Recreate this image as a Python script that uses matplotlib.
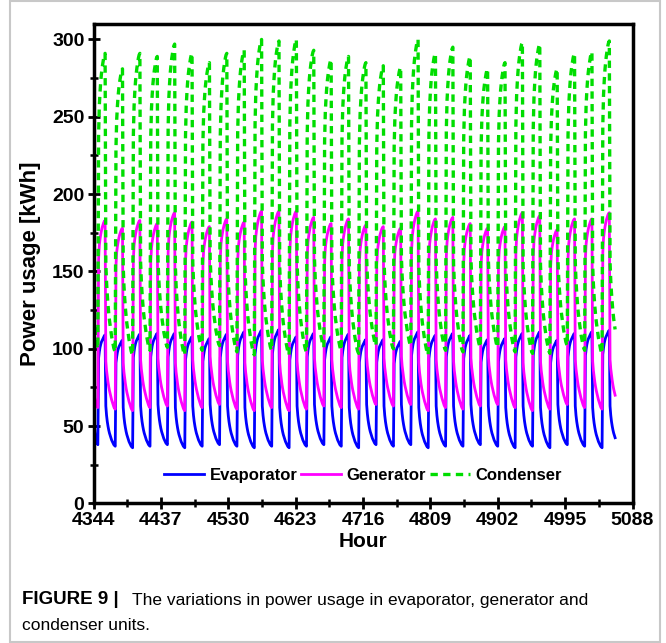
import numpy as np
import matplotlib.pyplot as plt
from matplotlib.ticker import MultipleLocator, FixedLocator
from matplotlib.patches import Rectangle

# ---------------- data ----------------
start_hour = 4344
n_days = 30
x_ticks = [4344, 4437, 4530, 4623, 4716, 4809, 4902, 4995, 5088]

# daily peak values (kWh), one per day
evap_peak = [109, 105.6, 109.5, 110, 110, 107.8, 106.7, 109.5, 111, 112,
             112.5, 107.8, 110, 107.8, 109.5, 106, 106, 105, 111, 108.8,
             110, 108.8, 106, 106.7, 110, 111, 105.6, 110, 111, 112]
gen_peak = [183, 178, 183, 181, 188, 182, 179, 184, 182, 189,
            189, 189, 185, 181, 184, 180, 179, 178, 189, 184,
            185, 181, 178, 179, 188, 186, 177, 184, 184, 188]
cond_peak = [291, 281, 291, 289, 297, 291, 285, 291, 293, 300,
             299, 300, 293, 287, 289, 285, 283, 282, 300, 291,
             295, 289, 281, 285, 298, 297, 281, 291, 292, 299]

# daily minimum values (kWh)
evap_low = [37, 36, 37, 38, 36, 37, 38, 37, 36, 37,
            36, 37, 38, 37, 36, 38, 37, 38, 36, 37,
            37, 38, 37, 36, 37, 36, 38, 37, 36, 37]
gen_low = [61, 60, 62, 63, 60, 62, 64, 61, 60, 62,
           60, 61, 63, 62, 61, 64, 63, 64, 60, 62,
           61, 63, 64, 62, 60, 61, 64, 62, 61, 62]
cond_low = [98, 96, 99, 101, 96, 99, 102, 98, 96, 99,
            96, 98, 101, 99, 97, 102, 100, 102, 96, 99,
            98, 101, 101, 98, 97, 97, 102, 99, 97, 99]

# typical hourly shape: operating hours (07-16 h) and off hours (17-06 h)
evap_on = [93, 97, 100, 102, 103.5, 104.5, 105.5, 106.5, 107.5, 108]
evap_off = [64, 58, 54, 51, 48.5, 46.5, 45, 43.5, 42, 41, 40, 39, 38.5, 38]
gen_on = [158, 167, 171, 174, 176.5, 178.5, 180, 181.5, 182.5, 183]
gen_off = [93, 87, 83, 79.5, 76.5, 74, 72, 70, 68, 66.5, 65, 63.5, 62.5, 62]
cond_on = [238, 257, 266, 273, 278, 282, 285, 288, 290, 291]
cond_off = [157, 145, 137, 130.5, 125, 120.5, 117, 113.5, 110, 107.5, 105, 102.5, 101, 100]

# first hours of the record (00-06 h of day one)
evap_start = [62, 52, 46, 42, 40, 39, 38]
gen_start = [76, 70, 67, 65, 63.5, 62.5, 62]
cond_start = [130, 120, 112, 107, 103.5, 101.5, 100]


def build(start, on, off, peak, low):
    on = np.array(on, dtype=float)
    off = np.array(off, dtype=float)
    vals = list(start)
    for d in range(n_days):
        vals += list(on * peak[d] / on[-1])
        vals += list(off - off[-1] + low[d])
    return np.array(vals)


evap = build(evap_start, evap_on, evap_off, evap_peak, evap_low)
gen = build(gen_start, gen_on, gen_off, gen_peak, gen_low)
cond = build(cond_start, cond_on, cond_off, cond_peak, cond_low)
n_pts = n_days * 24 + 1
hours = start_hour + np.arange(n_pts)
evap, gen, cond = evap[:n_pts], gen[:n_pts], cond[:n_pts]

# ---------------- plot ----------------
plt.rcParams['font.family'] = ['Liberation Sans', 'DejaVu Sans']

fig = plt.figure(figsize=(6.66, 6.43), dpi=100)
ax = fig.add_axes([0.1404, 0.217, 0.8093, 0.7457])

ax.plot(hours, evap, color='#0000FF', lw=2, label='Evaporator')
ax.plot(hours, gen, color='#FF00FF', lw=2, label='Generator')
ax.plot(hours, cond, color='#00DD00', lw=2.4, ls=(0, (2.2, 1.6)), label='Condenser')

ax.set_xlim(4344, 5088)
ax.set_ylim(0, 310)
ax.xaxis.set_major_locator(FixedLocator(x_ticks))
ax.xaxis.set_minor_locator(MultipleLocator(46.5, offset=4344 % 46.5))
ax.yaxis.set_major_locator(MultipleLocator(50))
ax.yaxis.set_minor_locator(MultipleLocator(25))
ax.tick_params(which='major', direction='inout', length=9, width=2, labelsize=14, pad=2)
ax.tick_params(which='minor', direction='inout', length=6, width=1.8)
for lab in ax.get_xticklabels() + ax.get_yticklabels():
    lab.set_fontweight('bold')
for sp in ax.spines.values():
    sp.set_linewidth(2.5)

ax.set_xlabel('Hour', fontsize=15, fontweight='bold', labelpad=2)
ax.set_ylabel('Power usage [kWh]', fontsize=16, fontweight='bold', labelpad=8)

leg = ax.legend(loc='lower center', bbox_to_anchor=(0.50, 0.012), ncol=3, frameon=False,
                prop={'size': 12, 'weight': 'bold'}, handlelength=2.4,
                columnspacing=0.2, handletextpad=0.35)

# outer frame and caption
fig.patches.append(Rectangle((10 / 666, 0.002), 650 / 666, 0.996, transform=fig.transFigure,
                             fill=False, ec='#c8c8c8', lw=1.5))
fig.text(22 / 666, 1 - 600 / 643, 'FIGURE 9 |', fontsize=13.5, fontweight='bold', va='center')
fig.text(132 / 666, 1 - 600 / 643, 'The variations in power usage in evaporator, generator and',
         fontsize=12.5, va='center')
fig.text(22 / 666, 1 - 626 / 643, 'condenser units.', fontsize=12.5, va='center')

fig.savefig('out.png', dpi=100)
